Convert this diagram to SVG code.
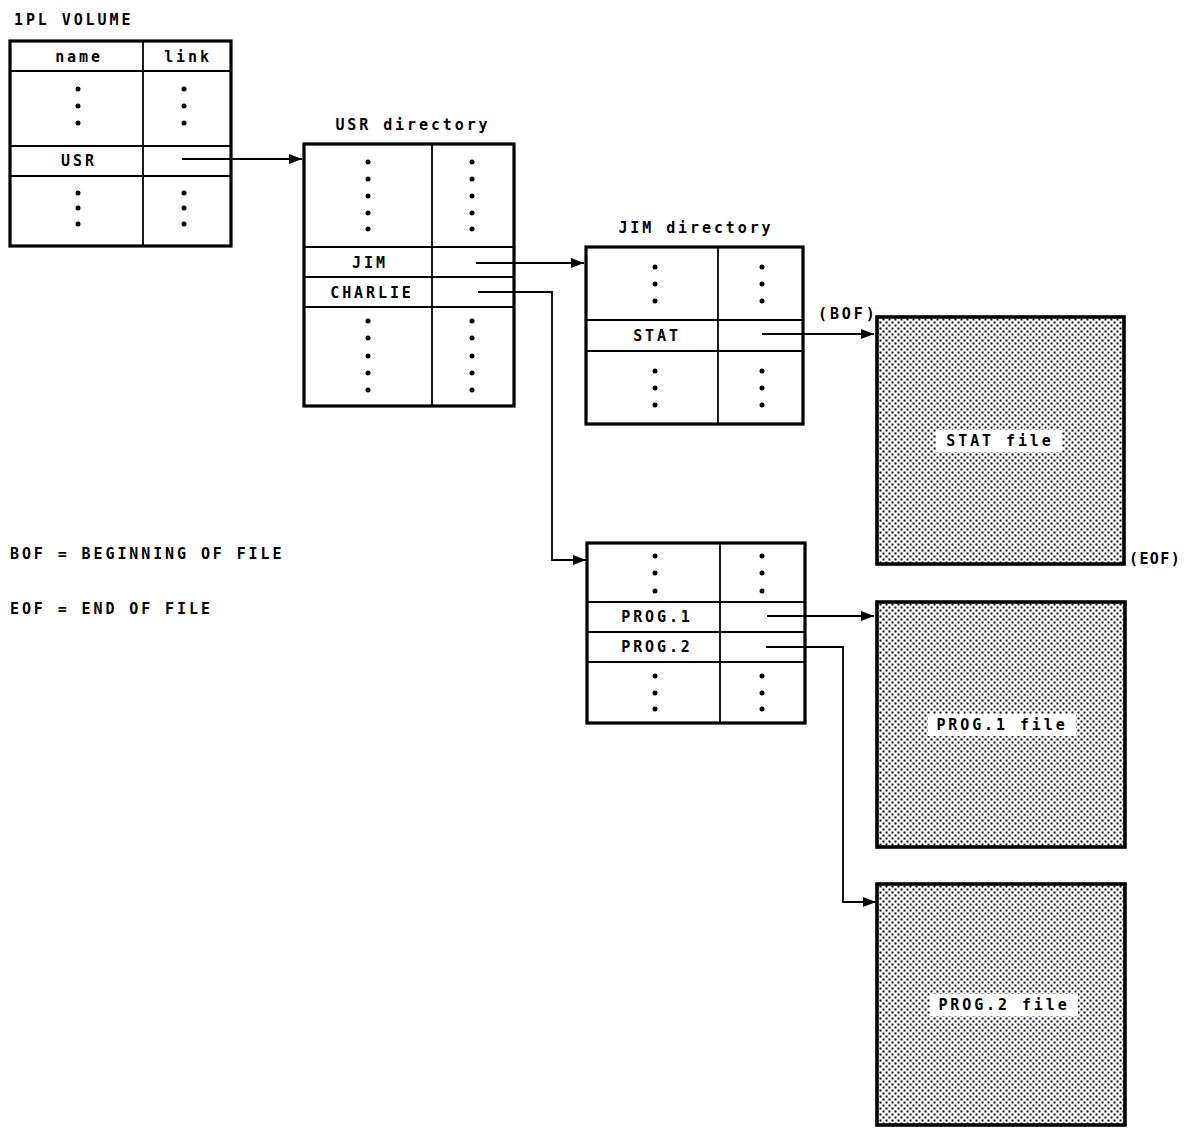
<svg xmlns="http://www.w3.org/2000/svg" width="1187" height="1128" viewBox="0 0 1187 1128">
<style>
text{font-family:"DejaVu Sans Mono","Liberation Mono",monospace;font-size:15px;font-weight:bold;letter-spacing:2.9px;fill:#000}
.c{text-anchor:middle}
.box{fill:#fff;stroke:#000;stroke-width:3.2}
.ln{stroke:#000;stroke-width:1.8;fill:none}
.file{fill:url(#dots);stroke:#000;stroke-width:3.6}
.lbl{fill:#fff;stroke:none}
.dot{fill:#000}
.con{stroke:#000;stroke-width:1.8;fill:none;marker-end:url(#arr)}
</style>
<defs>
<pattern id="dots" width="6" height="6" patternUnits="userSpaceOnUse">
<rect width="6" height="6" fill="#fff"/>
<rect x="0.5" y="0.5" width="2" height="2" fill="#000"/>
<rect x="3.5" y="3.5" width="2" height="2" fill="#000"/>
</pattern>
<marker id="arr" markerWidth="14" markerHeight="12" refX="13" refY="6" orient="auto" markerUnits="userSpaceOnUse">
<path d="M0,1 L13,6 L0,11 z" fill="#000"/>
</marker>
</defs>

<g id="ipl-volume">
<text x="14" y="25">1PL VOLUME</text>
<rect class="box" x="10" y="41" width="221" height="205"/>
<line class="ln" x1="10" y1="71" x2="231" y2="71"/>
<line class="ln" x1="10" y1="146" x2="231" y2="146"/>
<line class="ln" x1="10" y1="176" x2="231" y2="176"/>
<line class="ln" x1="143" y1="41" x2="143" y2="246"/>
<text class="c" x="79" y="62">name</text>
<text class="c" x="188" y="62">link</text>
<text class="c" x="79" y="166">USR</text>
<g class="dot">
<circle cx="78" cy="89" r="2.5"/><circle cx="78" cy="106" r="2.5"/><circle cx="78" cy="123" r="2.5"/>
<circle cx="184" cy="89" r="2.5"/><circle cx="184" cy="106" r="2.5"/><circle cx="184" cy="123" r="2.5"/>
<circle cx="78" cy="193" r="2.5"/><circle cx="78" cy="208" r="2.5"/><circle cx="78" cy="224" r="2.5"/>
<circle cx="184" cy="193" r="2.5"/><circle cx="184" cy="208" r="2.5"/><circle cx="184" cy="224" r="2.5"/>
</g>
</g>

<g id="usr-directory">
<text class="c" x="413" y="130">USR directory</text>
<rect class="box" x="304" y="144" width="210" height="262"/>
<line class="ln" x1="304" y1="247" x2="514" y2="247"/>
<line class="ln" x1="304" y1="277" x2="514" y2="277"/>
<line class="ln" x1="304" y1="307" x2="514" y2="307"/>
<line class="ln" x1="432" y1="144" x2="432" y2="406"/>
<text class="c" x="370" y="268">JIM</text>
<text class="c" x="372" y="298">CHARLIE</text>
<g class="dot">
<circle cx="368" cy="162" r="2.5"/><circle cx="368" cy="179" r="2.5"/><circle cx="368" cy="196" r="2.5"/><circle cx="368" cy="213" r="2.5"/><circle cx="368" cy="229" r="2.5"/>
<circle cx="472" cy="162" r="2.5"/><circle cx="472" cy="179" r="2.5"/><circle cx="472" cy="196" r="2.5"/><circle cx="472" cy="213" r="2.5"/><circle cx="472" cy="229" r="2.5"/>
<circle cx="368" cy="321" r="2.5"/><circle cx="368" cy="338" r="2.5"/><circle cx="368" cy="356" r="2.5"/><circle cx="368" cy="373" r="2.5"/><circle cx="368" cy="390" r="2.5"/>
<circle cx="472" cy="321" r="2.5"/><circle cx="472" cy="338" r="2.5"/><circle cx="472" cy="356" r="2.5"/><circle cx="472" cy="373" r="2.5"/><circle cx="472" cy="390" r="2.5"/>
</g>
</g>

<g id="jim-directory">
<text class="c" x="696" y="233">JIM directory</text>
<rect class="box" x="586" y="247" width="217" height="177"/>
<line class="ln" x1="586" y1="320" x2="803" y2="320"/>
<line class="ln" x1="586" y1="351" x2="803" y2="351"/>
<line class="ln" x1="718" y1="247" x2="718" y2="424"/>
<text class="c" x="657" y="341">STAT</text>
<g class="dot">
<circle cx="655" cy="267" r="2.5"/><circle cx="655" cy="284" r="2.5"/><circle cx="655" cy="301" r="2.5"/>
<circle cx="762" cy="267" r="2.5"/><circle cx="762" cy="284" r="2.5"/><circle cx="762" cy="301" r="2.5"/>
<circle cx="655" cy="371" r="2.5"/><circle cx="655" cy="388" r="2.5"/><circle cx="655" cy="405" r="2.5"/>
<circle cx="762" cy="371" r="2.5"/><circle cx="762" cy="388" r="2.5"/><circle cx="762" cy="405" r="2.5"/>
</g>
</g>

<g id="charlie-directory">
<rect class="box" x="587" y="543" width="218" height="180"/>
<line class="ln" x1="587" y1="602" x2="805" y2="602"/>
<line class="ln" x1="587" y1="632" x2="805" y2="632"/>
<line class="ln" x1="587" y1="662" x2="805" y2="662"/>
<line class="ln" x1="720" y1="543" x2="720" y2="723"/>
<text class="c" x="657" y="622">PROG.1</text>
<text class="c" x="657" y="652">PROG.2</text>
<g class="dot">
<circle cx="655" cy="556" r="2.5"/><circle cx="655" cy="573" r="2.5"/><circle cx="655" cy="591" r="2.5"/>
<circle cx="762" cy="556" r="2.5"/><circle cx="762" cy="573" r="2.5"/><circle cx="762" cy="591" r="2.5"/>
<circle cx="655" cy="676" r="2.5"/><circle cx="655" cy="693" r="2.5"/><circle cx="655" cy="709" r="2.5"/>
<circle cx="762" cy="676" r="2.5"/><circle cx="762" cy="693" r="2.5"/><circle cx="762" cy="709" r="2.5"/>
</g>
</g>

<g id="stat-file">
<rect class="file" x="877" y="317" width="247" height="247"/>
<rect class="lbl" x="936" y="430" width="126" height="22"/>
<text class="c" x="1000" y="446">STAT file</text>
<text x="818" y="319">(BOF)</text>
<text x="1129" y="564" style="letter-spacing:1.4px">(EOF)</text>
</g>

<g id="prog1-file">
<rect class="file" x="877" y="602" width="248" height="245"/>
<rect class="lbl" x="928" y="714" width="148" height="22"/>
<text class="c" x="1002" y="730">PROG.1 file</text>
</g>

<g id="prog2-file">
<rect class="file" x="877" y="884" width="248" height="241"/>
<rect class="lbl" x="930" y="994" width="148" height="22"/>
<text class="c" x="1004" y="1010">PROG.2 file</text>
</g>

<g id="legend">
<text x="10" y="559">BOF = BEGINNING OF FILE</text>
<text x="10" y="614">EOF = END OF FILE</text>
</g>

<g id="connectors">
<path class="con" d="M182,159 H302"/>
<path class="con" d="M476,263 H584"/>
<path class="con" d="M478,292 H552 V560 H586"/>
<path class="con" d="M762,334 H874"/>
<path class="con" d="M767,616 H874"/>
<path class="con" d="M766,647 H843 V902 H876"/>
</g>
</svg>
